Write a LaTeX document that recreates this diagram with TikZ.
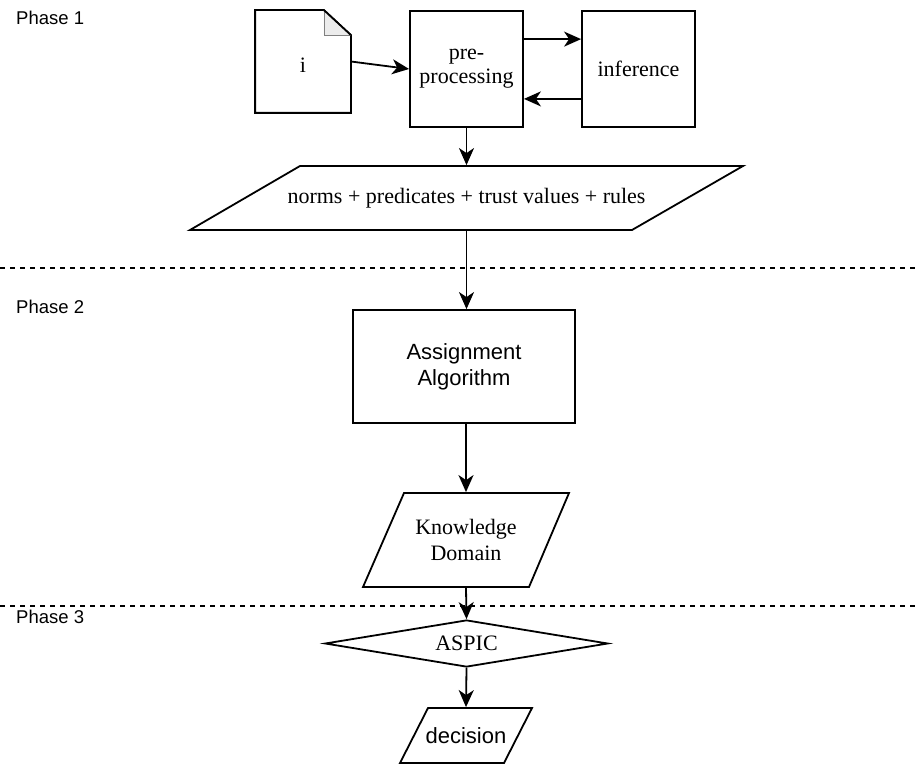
\documentclass[tikz,border=0pt]{standalone}
\usepackage{fontspec}
\setmainfont{Liberation Serif}
\setsansfont{Liberation Sans}
\usetikzlibrary{arrows.meta,shapes.geometric}
\begin{document}
\begin{tikzpicture}[x=1pt,y=-1pt,line width=1.8pt,line join=miter,
	>={Stealth[length=17pt,width=15pt,inset=5pt]},
	box/.style={draw,minimum width=113,minimum height=116,align=center,font=\fontsize{22}{24}\selectfont},
	io/.style={minimum height=#1,align=center,font=\fontsize{22}{26}\selectfont},
	phase/.style={anchor=west,font=\sffamily\fontsize{18.5}{22}\selectfont}]
	\useasboundingbox (0,0) rectangle (917,765);
	% Phase 1
	\node[minimum width=94,minimum height=101,font=\fontsize{22}{24}\selectfont] (doc) at (303,61.5) {};
	\node[font=\fontsize{22}{24}\selectfont] (doclabel) at (303,65) {i};
	\draw (doc.south west) -- (doc.north west) -- ([xshift=-27]doc.north east) -- ([yshift=-25]doc.north east) -- (doc.south east) -- cycle;
	\draw[line width=0.6pt,gray,fill=gray!15] ([xshift=-27]doc.north east) -- ([xshift=-27,yshift=-25]doc.north east) -- ([yshift=-25]doc.north east);
	\draw ([xshift=-27]doc.north east) -- ([yshift=-25]doc.north east);
	\node[box] (pre) at (466.5,69) {pre-\\processing};
	\node[box] (inf) at (638.5,69) {inference};
	\node[io=64] (facts) at (466.5,198) {norms + predicates + trust values + rules};
	\draw (300,166) -- (743,166) -- (632,230) -- (190,230) -- cycle;
	\draw[->] (doc.east) -- (pre.west);
	\draw[->] ([yshift=-29]pre.north east) -- ([yshift=-29]inf.north west);
	\draw[->] ([yshift=29]inf.south west) -- ([yshift=29]pre.south east);
	\draw[->] (pre.south) -- (facts.north);
	% Phase 2
	\node[box,minimum width=222,minimum height=113,font=\sffamily\fontsize{22}{26}\selectfont] (alg) at (464,366.5) {Assignment\\Algorithm};
	\node[io=94] (kd) at (466,540) {Knowledge\\Domain};
	\draw (404,493) -- (569,493) -- (529,587) -- (363,587) -- cycle;
	\draw[->] (facts.south) -- (alg.north -| facts.south);
	\draw[->] (alg.south -| kd.north) -- (kd.north);
	% Phase 3
	\node[diamond,draw,aspect=6,inner sep=0pt,minimum width=283,minimum height=47,font=\fontsize{22}{24}\selectfont] (aspic) at (466.5,643.5) {ASPIC};
	\node[io=55,font=\sffamily\fontsize{22}{26}\selectfont] (dec) at (466,735.5) {decision};
	\draw (428,708) -- (532,708) -- (504,763) -- (400,763) -- cycle;
	\draw[->] (kd.south) -- (aspic.north);
	\draw[->] (aspic.south) -- (dec.north);
	% phase separators and labels
	\draw[dashed,line width=1.1pt,dash pattern=on 5pt off 5pt] (0,268) -- (917,268);
	\draw[dashed,line width=1.1pt,dash pattern=on 5pt off 5pt] (0,606) -- (917,606);
	\node[phase] (p1) at (12,18) {Phase 1};
	\node[phase] (p2) at (12,307) {Phase 2};
	\node[phase] (p3) at (12,617) {Phase 3};
\end{tikzpicture}
\end{document}
